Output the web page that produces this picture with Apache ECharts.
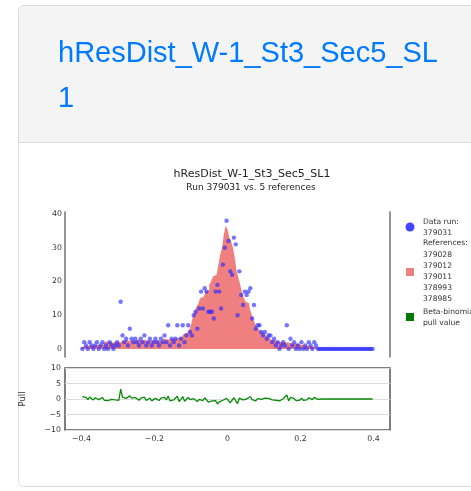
<!DOCTYPE html>
<html>
<head>
<meta charset="utf-8">
<script src="https://cdn.jsdelivr.net/npm/echarts@6/dist/echarts.min.js"></script>
<style>
html,body{margin:0;padding:0;background:#fff;overflow:hidden;}
#chart{width:471px;height:491px;}
</style>
</head>
<body>
<div id="chart"></div>
<script>
// ---- data ----
const headerText = 'hResDist_W-1_St3_Sec5_SL\n1';
const chartTitle = 'hResDist_W-1_St3_Sec5_SL1';
const chartSubtitle = 'Run 379031 vs. 5 references';
const binLow = -0.4;
const binWidth = 0.005;
const refValues = [
  0.6,0.8,0.5,0.9,0.7,1.0,0.8,1.1,0.9,1.2,
  1.4,1.2,1.8,2.2,2.6,2.0,1.6,1.9,2.4,2.1,
  2.3,2.0,2.6,2.2,2.8,2.4,2.0,2.5,2.7,2.3,
  2.6,2.9,2.4,2.2,2.8,2.5,2.1,2.6,3.0,2.4,
  2.7,2.5,2.9,2.3,2.6,3.1,2.8,3.2,2.9,3.4,
  3.0,3.4,3.2,3.7,3.5,4.0,4.4,4.8,5.2,5.6,
  7.0,9.5,11.0,12.5,13.5,15.0,15.5,16.0,17.0,17.5,
  19.0,20.0,21.5,22.0,22.5,25.0,28.0,30.0,34.0,36.5,
  35.5,33.0,32.0,30.0,27.0,23.0,21.0,19.0,16.5,15.0,
  14.0,13.5,12.5,10.5,9.0,7.5,6.5,5.8,5.2,4.7,
  4.2,3.8,3.4,3.0,2.7,2.5,2.3,2.1,2.4,2.0,
  1.8,2.0,1.6,1.8,2.2,1.5,1.4,1.6,1.2,1.3,
  1.0,1.1,0.8,0.9,0.7,0.8,0.5,0.6,0.4,0.3,
  0,0,0,0,0,0,0,0,0,0,
  0,0,0,0,0,0,0,0,0,0,
  0,0,0,0,0,0,0,0,0,0
];
const dataValues = [
  0,2,1,0,2,1,0,1,2,0,
  1,2,0,1,0,2,1,0,1,2,
  1,14,4,2,3,1,6,3,2,3,
  2,1,3,2,4,1,2,3,1,2,
  3,2,1,3,2,4,2,7,1,3,
  2,3,7,1,3,7,2,4,7,5,
  4,10,11,6,12,17,12,18,17,11,
  11,11,9,17,19,17,12,25,30,38,
  32,23,22,33,31,10,23,16,13,17,
  16,17,18,9,13,6,7,7,5,4,
  5,3,4,4,2,3,1,2,0,1,
  2,1,7,0,3,1,2,0,1,0,
  2,0,1,0,2,1,0,2,1,0,
  0,0,0,0,0,0,0,0,0,0,
  0,0,0,0,0,0,0,0,0,0,
  0,0,0,0,0,0,0,0,0,0
];
const pullValues = [
  0.8,0.3,0.5,-0.2,0.6,0.1,-0.3,0.4,0.6,-0.2,
  0.2,0.5,-0.4,-0.3,-0.5,0.1,-0.1,-0.4,-0.3,0.0,
  -0.4,3.2,0.6,0.0,0.2,-0.3,1.0,0.3,0.0,0.5,
  -0.1,-0.4,0.3,0.0,0.6,-0.5,-0.1,0.3,-0.6,-0.1,
  0.2,-0.1,-0.5,0.3,-0.2,0.5,-0.3,1.0,-0.6,-0.1,
  -0.3,-0.1,0.9,-0.8,-0.1,0.8,-0.7,-0.3,0.5,-0.2,
  -0.8,0.1,0.0,-0.8,-0.1,0.4,-0.5,0.4,0.0,-1.0,
  -0.8,-0.6,-1.1,-0.5,-1.6,-0.9,-1.3,-0.4,0.0,0.2,
  -0.4,-1.2,-1.0,0.4,0.3,-1.5,0.3,-0.1,-0.3,0.1,
  0.0,0.5,0.8,-0.2,0.2,-0.6,0.1,0.4,-0.1,-0.2,
  0.3,-0.3,0.2,0.4,-0.3,0.2,-0.4,0.0,-0.6,-0.4,
  0.1,-0.2,1.3,-0.6,0.5,-0.1,0.2,-0.5,-0.1,-0.4,
  0.3,-0.4,0.1,-0.3,0.4,0.1,-0.2,0.5,0.3,-0.1,
  0,0,0,0,0,0,0,0,0,0,
  0,0,0,0,0,0,0,0,0,0,
  0,0,0,0,0,0,0,0,0,0
];
const yTicksMain = [0,10,20,30,40];
const xTicksPull = [-0.4,-0.2,0,0.2,0.4];
const legendLines = ['Data run:','379031','References:','379028','379012','379011','378993','378985','Beta-binomial','pull value'];

// ---- build ----
const centers = refValues.map((_, i) => +(binLow + (i + 0.5) * binWidth).toFixed(4));
const refStep = refValues.map((v, i) => [+(binLow + i * binWidth).toFixed(4), v]);
refStep.push([+(binLow + refValues.length * binWidth).toFixed(4), refValues[refValues.length - 1]]);
const dataPts = dataValues.map((v, i) => [centers[i], v]);
const pullPts = pullValues.map((v, i) => [centers[i], v]);
const mfmt = v => (v < 0 ? '\u2212' + String(-v) : String(v));
const FONT = '"DejaVu Sans", sans-serif';

const legendGraphics = [
  {type:'circle', shape:{cx:410, cy:227, r:4.5}, style:{fill:'#4444ff'}, z:100},
  {type:'rect', shape:{x:406, y:268, width:8, height:8}, style:{fill:'#f08080'}, z:100},
  {type:'rect', shape:{x:406, y:313, width:8, height:8}, style:{fill:'#007a00'}, z:100}
];
const legendY = [222, 233.3, 243.5, 255, 266.5, 277.3, 288.3, 299, 311.7, 322.7];
legendLines.forEach((t, i) => {
  legendGraphics.push({type:'text', z:100, style:{text:t, x:423, y:legendY[i], align:'left', verticalAlign:'middle',
    font:'7.6px ' + FONT, fill:'#333'}});
});

const chart = echarts.init(document.getElementById('chart'));
chart.setOption({
  animation:false,
  backgroundColor:'#fff',
  graphic:[
    {type:'rect', z:-10, shape:{x:18.5, y:5.5, width:480, height:481, r:5}, style:{fill:'#fff', stroke:'#dcdcdc', lineWidth:1}},
    {type:'rect', z:-9, shape:{x:19, y:6, width:479, height:136, r:[4,0,0,0]}, style:{fill:'#f4f4f4'}},
    {type:'line', z:-8, shape:{x1:19, y1:142.5, x2:480, y2:142.5}, style:{stroke:'#dcdcdc', lineWidth:1}},
    {type:'text', z:100, style:{text:headerText, x:58, y:31, align:'left', verticalAlign:'top',
      font:'29px "Liberation Sans", Arial, sans-serif', fill:'#007bff', lineHeight:45}},
    {type:'text', z:100, style:{text:chartTitle, x:252, y:174, align:'center', verticalAlign:'middle', font:'11px ' + FONT, fill:'#222'}},
    {type:'text', z:100, style:{text:chartSubtitle, x:251, y:187.5, align:'center', verticalAlign:'middle', font:'9px ' + FONT, fill:'#222'}}
  ].concat(legendGraphics),
  grid:[
    {left:65, top:212, width:325, height:145, show:false},
    {left:65, top:368, width:325, height:62, show:true, borderColor:'#555', borderWidth:1.5, backgroundColor:'transparent'}
  ],
  xAxis:[
    {type:'value', gridIndex:0, min:-0.445, max:0.445, show:false},
    {type:'value', gridIndex:1, min:-0.445, max:0.445,
      axisLine:{show:false, onZero:false}, axisTick:{show:false}, splitLine:{show:false},
      axisLabel:{customValues:xTicksPull, formatter:mfmt, fontSize:7.8, fontFamily:FONT, color:'#333', margin:5}}
  ],
  yAxis:[
    {type:'value', gridIndex:0, min:-2.4, max:40.6, position:'left',
      axisLine:{show:true, onZero:false, lineStyle:{color:'#7a7a7a', width:1.6}}, axisTick:{show:false}, splitLine:{show:false},
      axisLabel:{customValues:yTicksMain, fontSize:7.8, fontFamily:FONT, color:'#333', margin:3}},
    {type:'value', gridIndex:0, min:-2.4, max:40.6, position:'right',
      axisLine:{show:true, onZero:false, lineStyle:{color:'#7a7a7a', width:1.6}}, axisTick:{show:false}, splitLine:{show:false}, axisLabel:{show:false}},
    {type:'value', gridIndex:1, min:-10, max:10, interval:5,
      axisLine:{show:false, onZero:false}, axisTick:{show:false},
      splitLine:{show:true, lineStyle:{color:'#dddddd', width:1}},
      axisLabel:{formatter:mfmt, fontSize:7.8, fontFamily:FONT, color:'#333', margin:4},
      name:'Pull', nameLocation:'middle', nameGap:38, nameTextStyle:{fontSize:8.5, fontFamily:FONT, color:'#333'}}
  ],
  series:[
    {type:'line', xAxisIndex:0, yAxisIndex:0, data:refStep, step:'end', showSymbol:false,
      lineStyle:{width:0}, areaStyle:{color:'#f08080', opacity:1}, z:2},
    {type:'scatter', xAxisIndex:0, yAxisIndex:0, data:dataPts, symbolSize:4.4,
      itemStyle:{color:'rgba(40,40,255,0.8)'}, z:3},
    {type:'line', xAxisIndex:1, yAxisIndex:2, data:pullPts, showSymbol:false,
      lineStyle:{color:'#0a8a0a', width:1.3}, z:3}
  ]
});
</script>
</body>
</html>
